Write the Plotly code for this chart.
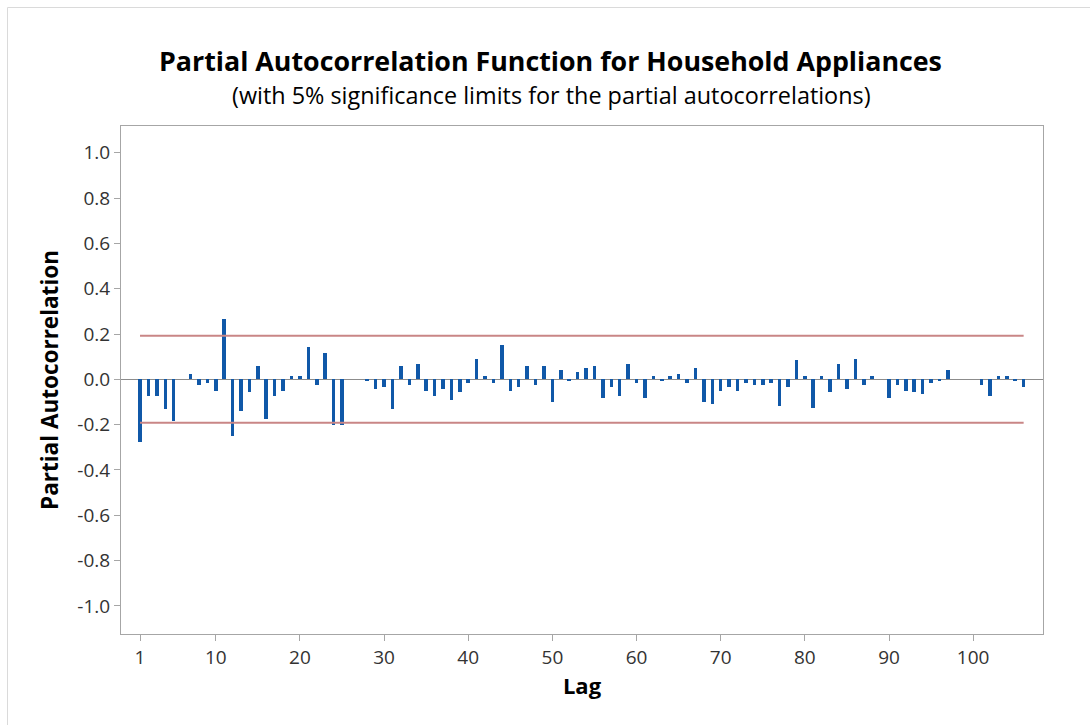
import plotly.graph_objects as go

# Partial autocorrelations by lag (lags 1..106)
lags = list(range(1, 107))
pacf = [
    -0.275, -0.075, -0.075, -0.132, -0.182, 0.0, 0.025, -0.023, -0.016, -0.050,   # 1-10
    0.266, -0.250, -0.141, -0.057, 0.057, -0.175, -0.075, -0.050, 0.016, 0.016,   # 11-20
    0.141, -0.023, 0.116, -0.200, -0.200, 0.0, 0.0, -0.007, -0.041, -0.032,       # 21-30
    -0.132, 0.059, -0.023, 0.068, -0.050, -0.075, -0.041, -0.091, -0.057, -0.016,  # 31-40
    0.091, 0.016, -0.016, 0.150, -0.050, -0.032, 0.059, -0.023, 0.059, -0.100,    # 41-50
    0.041, -0.007, 0.034, 0.050, 0.059, -0.084, -0.032, -0.075, 0.068, -0.016,    # 51-60
    -0.084, 0.016, -0.007, 0.016, 0.025, -0.016, 0.050, -0.100, -0.107, -0.050,   # 61-70
    -0.032, -0.050, -0.016, -0.023, -0.023, -0.016, -0.116, -0.032, 0.084, 0.016,  # 71-80
    -0.125, 0.016, -0.057, 0.068, -0.041, 0.091, -0.023, 0.016, 0.0, -0.084,      # 81-90
    -0.023, -0.050, -0.057, -0.066, -0.016, -0.007, 0.041, 0.0, 0.0, 0.0,         # 91-100
    -0.023, -0.075, 0.016, 0.016, -0.007, -0.032,                                 # 101-106
]
limit = 0.192  # 5% significance limit

x_ticks = [1, 10, 20, 30, 40, 50, 60, 70, 80, 90, 100]
y_ticks = [-1.0, -0.8, -0.6, -0.4, -0.2, 0.0, 0.2, 0.4, 0.6, 0.8, 1.0]

FONT = "Open Sans"
BAR = "#1058a8"
LIMIT = "#c98686"
AXIS = "#a6a6a6"

fig = go.Figure()

fig.add_trace(go.Bar(
    x=lags, y=pacf, width=0.42,
    marker=dict(color=BAR, line=dict(width=0)),
    hoverinfo="x+y", showlegend=False,
))

for sign in (1, -1):
    fig.add_trace(go.Scatter(
        x=[lags[0], lags[-1]], y=[sign * limit, sign * limit],
        mode="lines", line=dict(color=LIMIT, width=2),
        hoverinfo="skip", showlegend=False,
    ))

fig.update_layout(
    width=1090, height=725,
    margin=dict(l=121, r=47, t=126, b=91),
    paper_bgcolor="white", plot_bgcolor="white",
    font=dict(family=FONT, color="#222222"),
    bargap=0,
    annotations=[
        dict(text="<b>Partial Autocorrelation Function for Household Appliances</b>",
             xref="paper", yref="paper", x=(550 - 121) / 922, y=(634 - 60) / 508,
             xanchor="center", yanchor="middle", showarrow=False,
             font=dict(family=FONT, size=26.8, color="#000000")),
        dict(text="(with 5% significance limits for the partial autocorrelations)",
             xref="paper", yref="paper", x=(551 - 121) / 922, y=(634 - 95) / 508,
             xanchor="center", yanchor="middle", showarrow=False,
             font=dict(family=FONT, size=23.4, color="#000000")),
    ],
    shapes=[
        # outer chart frame
        dict(type="rect", xref="paper", yref="paper",
             x0=(7.5 - 121) / 922, x1=(1100 - 121) / 922,
             y0=(634 - 740) / 508, y1=(634 - 7.5) / 508,
             line=dict(color="#dadada", width=1), layer="below"),
    ],
)

fig.update_xaxes(
    range=[-1.26, 108.3],
    tickmode="array", tickvals=x_ticks, ticktext=[str(v) for v in x_ticks],
    ticks="outside", ticklen=6, tickcolor=AXIS,
    showline=True, linecolor=AXIS, linewidth=1, mirror=True,
    showgrid=False, zeroline=False,
    tickfont=dict(family=FONT, size=19, color="#333333"),
    title=dict(text="<b>Lag</b>", font=dict(family=FONT, size=22, color="#000000"), standoff=8),
)
fig.update_yaxes(
    range=[-1.124, 1.118],
    tickmode="array", tickvals=y_ticks, ticktext=[f"{v:.1f}" for v in y_ticks],
    ticks="outside", ticklen=6, tickcolor=AXIS,
    showline=True, linecolor=AXIS, linewidth=1, mirror=True,
    showgrid=False, zeroline=True, zerolinecolor="#8c8c8c", zerolinewidth=1,
    tickfont=dict(family=FONT, size=19, color="#333333"),
    title=dict(text="<b>Partial Autocorrelation</b>", font=dict(family=FONT, size=22.5, color="#000000"), standoff=12),
)

fig.write_html("out.html")
